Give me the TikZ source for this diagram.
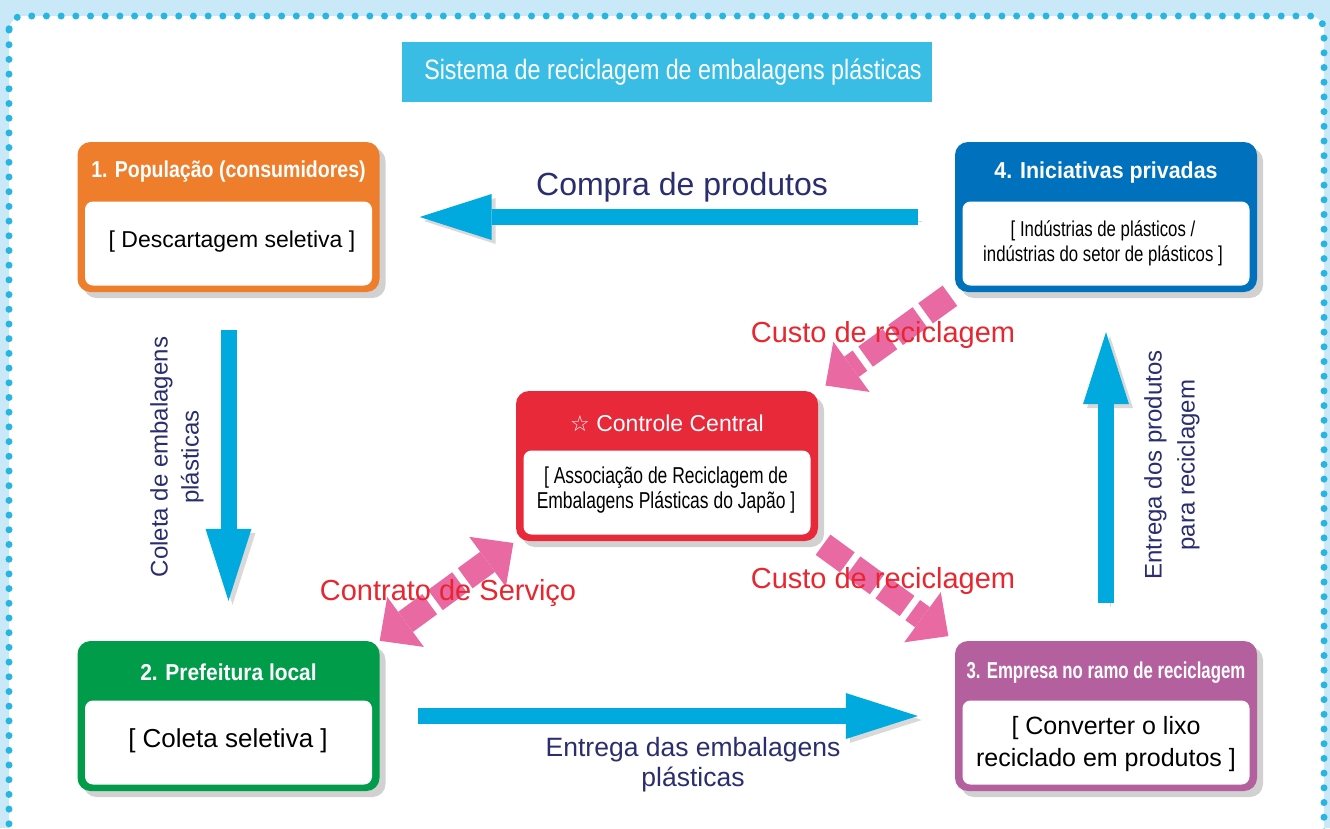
\documentclass[tikz,border=0pt]{standalone}
\usepackage{fontspec}
\usepackage{tikz}
\usetikzlibrary{arrows.meta,shadows}
\setmainfont{Liberation Sans}
\newfontfamily\symfont{DejaVu Sans}

\definecolor{bgblue}{RGB}{201,232,248}
\definecolor{dotblue}{RGB}{39,181,225}
\definecolor{titleblue}{RGB}{58,189,229}
\definecolor{arrowblue}{RGB}{0,169,222}
\definecolor{arrowpink}{RGB}{233,106,163}
\definecolor{labelred}{RGB}{232,38,47}
\definecolor{navy}{RGB}{42,46,110}
\definecolor{orangebox}{RGB}{238,126,44}
\definecolor{bluebox}{RGB}{0,113,188}
\definecolor{redbox}{RGB}{231,41,58}
\definecolor{greenbox}{RGB}{0,156,74}
\definecolor{purplebox}{RGB}{180,96,158}

\begin{document}
\begin{tikzpicture}[x=1pt,y=-1pt,
	outerbox/.style={rounded corners=13pt, minimum width=302pt, minimum height=150pt, inner sep=0pt,
		drop shadow={shadow xshift=6pt, shadow yshift=-6pt, fill=black, opacity=.18}},
	innerbox/.style={fill=white, rounded corners=8pt, minimum width=287pt, minimum height=84pt, inner sep=0pt},
	hdr/.style={text=white, font=\fontsize{23}{27}\selectfont\bfseries, inner sep=0pt, transform shape},
	body/.style={align=center, inner sep=0pt, transform shape},
	bluearrow/.style={draw=arrowblue, line width=16pt, >={Triangle[length=72pt,width=46pt,line width=0pt]}, ->,
		preaction={draw=black!15, transform canvas={xshift=4pt,yshift=-4pt}}},
	pinkarrow/.style={draw=arrowpink, line width=25pt, dash pattern=on 30pt off 7pt,
		>={Triangle[length=32pt,width=62pt,line width=0pt]}, ->},
	flowlabel/.style={text=navy, align=center, inner sep=0pt},
	costlabel/.style={text=labelred, inner sep=0pt, font=\fontsize{29}{34}\selectfont}]

	% Frame
	\useasboundingbox (0,0) rectangle (1330,828);
	\fill[bgblue] (0,0) rectangle (1330,828);
	\draw[dotblue, fill=white, line width=7pt, line cap=round, dash pattern=on 0pt off 14.7pt,
		rounded corners=14pt] (9,16) rectangle (1324,860);

	% Title
	\node[fill=titleblue, minimum width=530pt, minimum height=60pt] (title) at (667,72) {};
	\node[text=white, font=\fontsize{28}{32}\selectfont, xscale=.83, transform shape] (titletext) at (673,72)
		{Sistema de reciclagem de embalagens plásticas};

	% Boxes
	\foreach \nm/\x/\y/\col in {pop/228.5/217/orangebox, pref/228.5/716/greenbox,
		emp/1106/716/purplebox, ini/1106/217/bluebox, cc/667/466/redbox} {
		\node[outerbox, fill=\col] (\nm) at (\x,\y) {};
		\node[innerbox] (\nm in) at (\x,\y+26.5) {};
	}
	\node[hdr, xscale=.85] (popttl) at (228.5,172) {1. População (consumidores)};
	\node[hdr, xscale=.91] (prefttl) at (228.5,672) {2. Prefeitura local};
	\node[hdr, xscale=.73] (empttl) at (1106,673) {3. Empresa no ramo de reciclagem};
	\node[hdr, xscale=.93] (inittl) at (1106,173) {4. Iniciativas privadas};
	\node[hdr, font=\fontsize{23}{27}\selectfont] (ccttl) at (667,423)
		{{\symfont\fontsize{22}{24}\selectfont ☆} Controle Central};

	\node[body, font=\fontsize{23}{28}\selectfont] (poptxt) at (232,242) {[ Descartagem seletiva ]};
	\node[body, font=\fontsize{26}{30}\selectfont] (preftxt) at (228,741) {[ Coleta seletiva ]};
	\node[body, font=\fontsize{25}{32}\selectfont] (emptxt) at (1106,744) {[ Converter o lixo\\reciclado em produtos ]};
	\node[body, font=\fontsize{21.5}{25}\selectfont, xscale=.78] (initxt) at (1103,243)
		{[ Indústrias de plásticos /\\indústrias do setor de plásticos ]};
	\node[body, font=\fontsize{23}{25}\selectfont, xscale=.76] (cctxt) at (666,490)
		{[ Associação de Reciclagem de\\Embalagens Plásticas do Japão ]};

	% Flows
	\draw[bluearrow, shorten <=37pt, shorten >=40pt] (ini.west) -- (pop.east);
	\draw[bluearrow, shorten <=38pt, shorten >=40pt] (pop.south) -- (pref.north);
	\draw[bluearrow, shorten <=38pt, shorten >=37pt] (pref.east) -- (emp.west);
	\draw[bluearrow, shorten <=38pt, shorten >=40pt] (emp.north) -- (ini.south);

	\draw[pinkarrow, shorten <=6pt, shorten >=9pt] (ini.south west) -- (cc.north east);
	\draw[pinkarrow, shorten <=6pt, shorten >=8pt] (cc.south east) -- (emp.north west);
	\draw[pinkarrow, <->, shorten <=0pt, shorten >=3pt] (pref.north east) -- (cc.south west);

	% Labels
	\node[flowlabel, font=\fontsize{32}{38}\selectfont] (buylbl) at (682,187) {Compra de produtos};
	\node[flowlabel, font=\fontsize{24}{31}\selectfont, rotate=90] (collbl) at (177,457)
		{Coleta de embalagens\\plásticas};
	\node[flowlabel, font=\fontsize{26.5}{30}\selectfont] (dellbl) at (693,765)
		{Entrega das embalagens\\plásticas};
	\node[flowlabel, font=\fontsize{24}{33}\selectfont, rotate=90] (prodlbl) at (1172,465)
		{Entrega dos produtos\\para reciclagem};
	\node[costlabel] (cost1) at (883,335) {Custo de reciclagem};
	\node[costlabel] (cost2) at (883,581) {Custo de reciclagem};
	\node[costlabel] (contract) at (448,593) {Contrato de Serviço};
\end{tikzpicture}
\end{document}
